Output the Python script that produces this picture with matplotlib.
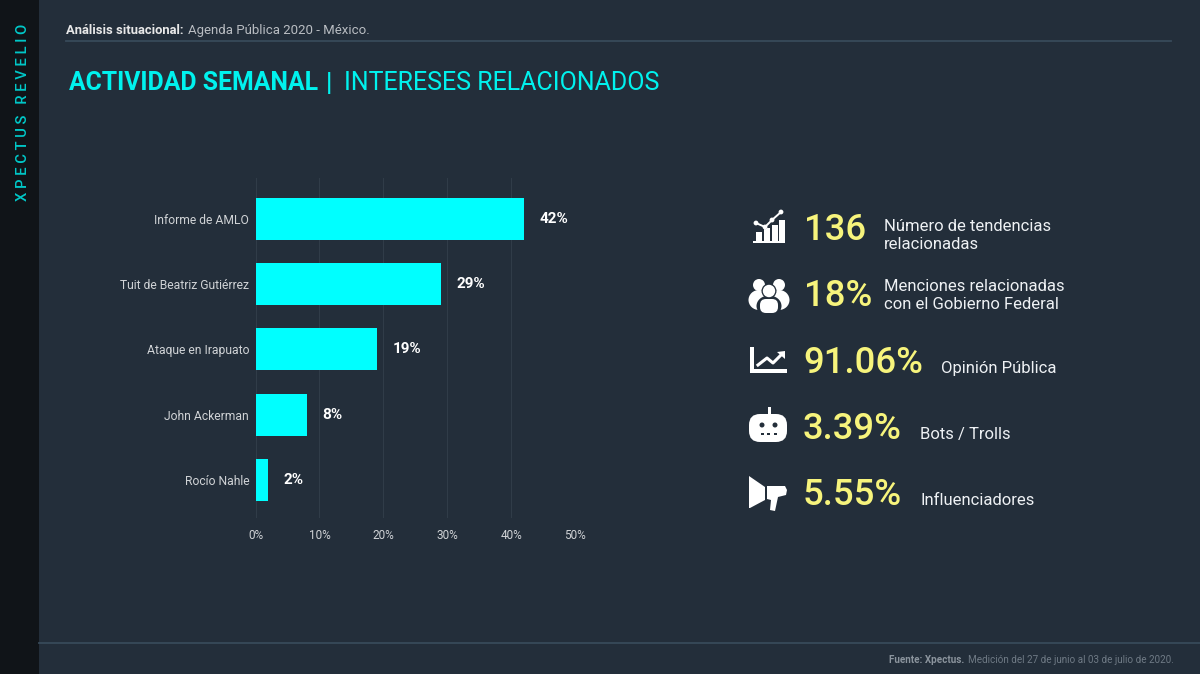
import matplotlib
matplotlib.use("Agg")
from matplotlib import pyplot as plt
from matplotlib.patches import Circle, FancyBboxPatch, Polygon, Rectangle, Ellipse

plt.rcParams["font.family"] = ["Roboto", "DejaVu Sans"]

# chart data
temas = ["Informe de AMLO", "Tuit de Beatriz Gutiérrez", "Ataque en Irapuato", "John Ackerman", "Rocío Nahle"]
valores = [42, 29, 19, 8, 2]
ticks = [0, 10, 20, 30, 40, 50]

# right panel
kpi_valores = ["136", "18%", "91.06%", "3.39%", "5.55%"]
kpi_textos = ["Número de tendencias\nrelacionadas", "Menciones relacionadas\ncon el Gobierno Federal",
              "Opinión Pública", "Bots / Trolls", "Influenciadores"]

BG = "#232e3a"
SIDE = "#101418"
LINE = "#384a5a"
CYAN = "#00ffff"
TITLE = "#00f2ee"
YELLOW = "#f7f47c"
WHITE = "#ffffff"
W, H = 1200, 674

fig = plt.figure(figsize=(W / 100, H / 100), dpi=100, facecolor=BG)

# page layer in pixel coordinates
page = fig.add_axes([0, 0, 1, 1])
page.set_xlim(0, W)
page.set_ylim(H, 0)
page.axis("off")

page.add_patch(Rectangle((0, 0), 38.5, H, color=SIDE, lw=0))
page.plot([66, 1171], [41, 41], color=LINE, lw=1.3)
page.plot([38.5, 1200], [643, 643], color=LINE, lw=1.3)

page.text(23.5, 112.5, "X P E C T U S   R E V E L I O", color="#00c8c8", fontsize=10.6, rotation=90,
          ha="center", va="center", fontweight="medium")

page.text(66, 34, "Análisis situacional:", color="#e8e8e8", fontsize=9.4, fontweight="bold")
page.text(188.5, 34, "Agenda Pública 2020 - México.", color="#b9bdc2", fontsize=9.5)

page.text(69, 90.5, "ACTIVIDAD SEMANAL", color=TITLE, fontsize=17.8, fontweight="bold")
page.text(326, 90.5, "|", color=TITLE, fontsize=17.8, fontweight="bold")
page.text(344.5, 90.5, "INTERESES RELACIONADOS", color=TITLE, fontsize=18)

page.text(1174, 663, "Medición del 27 de junio al 03 de julio de 2020.", color="#6f7a85", fontsize=7.15, ha="right")
page.text(964, 663, "Fuente: Xpectus.", color="#8b949d", fontsize=7.15, ha="right", fontweight="bold")


def icon_chart():
    page.add_patch(Rectangle((753, 240.5), 32, 2.5, color=WHITE, lw=0))
    for x, top in zip([756, 764, 772, 779], [232, 228, 225, 220]):
        page.add_patch(Rectangle((x, top), 5.5, 241 - top, color=WHITE, lw=0))
    page.plot([756, 765, 772, 781], [223, 227, 220, 212], color=BG, lw=3.2, zorder=3)
    page.plot([756, 765, 772, 781], [223, 227, 220, 212], color=WHITE, lw=1.4, zorder=4)
    for x, y in zip([756, 765, 772, 781], [223, 227, 220, 212]):
        page.add_patch(Circle((x, y), 2.4, color=WHITE, lw=0, zorder=5))


def icon_people():
    for x in [759, 779]:
        page.add_patch(Circle((x, 285), 6, color=WHITE, lw=0))
        page.add_patch(Ellipse((x, 300), 21, 20, color=WHITE, lw=0))
    page.add_patch(Circle((769, 291), 7.5, color=BG, lw=0))
    page.add_patch(Ellipse((769, 306), 25, 21, color=BG, lw=0))
    page.add_patch(Circle((769, 291), 6.2, color=WHITE, lw=0))
    page.add_patch(FancyBboxPatch((760, 299), 18, 14, boxstyle="round,pad=0,rounding_size=6", color=WHITE, lw=0))


def icon_trend():
    page.add_patch(Rectangle((750, 347), 3.5, 25.5, color=WHITE, lw=0))
    page.add_patch(Rectangle((750, 369), 37, 3.5, color=WHITE, lw=0))
    page.plot([758, 767, 773, 782], [365, 358, 363, 354], color=WHITE, lw=2.2)
    page.add_patch(Polygon([(777, 352), (785, 351), (785, 359)], color=WHITE, lw=0))


def icon_bot():
    page.add_patch(Rectangle((767.5, 407), 3, 8, color=WHITE, lw=0))
    page.add_patch(FancyBboxPatch((749, 414), 38, 28, boxstyle="round,pad=0,rounding_size=11", color=WHITE, lw=0))
    for x in [762, 775]:
        page.add_patch(Circle((x, 425), 2.5, color=BG, lw=0))
    for x in [762, 768.5, 775]:
        page.add_patch(Rectangle((x - 1.5, 433), 3, 2, color=BG, lw=0))


def icon_megaphone():
    page.add_patch(Polygon([(749, 476), (765, 487), (765, 500), (750, 508), (749, 508)], color=WHITE, lw=0))
    page.add_patch(Polygon([(767, 486), (785, 486), (787, 490), (786, 495), (778, 497), (775, 511),
                            (770, 510), (771, 500), (767, 499)], color=WHITE, lw=0))


icon_chart()
icon_people()
icon_trend()
icon_bot()
icon_megaphone()

# numbers and captions
kpi_x = [804, 804, 803, 803, 803]
kpi_y = [240.5, 306.5, 373, 439, 505]
cap_x = [884, 884, 941, 920.5, 920.5]
cap_y = [249, 309, 373, 439, 505]
for i in range(len(kpi_valores)):
    page.text(kpi_x[i], kpi_y[i], kpi_valores[i], color=YELLOW, fontsize=26.3, fontweight="medium")
    page.text(cap_x[i], cap_y[i], kpi_textos[i], color="#eef1f4", fontsize=11.95, linespacing=1.28)

# bars
px_left, px_right = 255.5, 575
px_top, px_bottom = 178, 518
ax = fig.add_axes([px_left / W, 1 - px_bottom / H, (px_right - px_left) / W, (px_bottom - px_top) / H])
ax.patch.set_alpha(0)
ax.set_xlim(0, 50)
ax.set_ylim(4.585, -0.629)
ax.barh(range(len(temas)), valores, height=0.645, color=CYAN, zorder=3)
ax.set_axisbelow(True)
ax.xaxis.grid(True, color="#303c48", lw=0.8)
ax.yaxis.grid(False)
for s in ax.spines.values():
    s.set_visible(False)
ax.set_yticks(range(len(temas)), temas)
ax.set_xticks(ticks, [f"{v}%" for v in ticks])
ax.tick_params(axis="both", length=0, labelcolor="#d0d3d6")
ax.tick_params(axis="y", pad=4.5, labelsize=8.75)
ax.tick_params(axis="x", pad=8, labelsize=8.5)
for label in ax.get_yticklabels():
    label.set_va("center_baseline")
for i, v in enumerate(valores):
    ax.annotate(f"{v}%", (v, i), xytext=(11, 0), textcoords="offset points", color=WHITE,
                fontsize=11, fontweight="bold", va="center")

fig.savefig("out.png", dpi=100, facecolor=BG)
